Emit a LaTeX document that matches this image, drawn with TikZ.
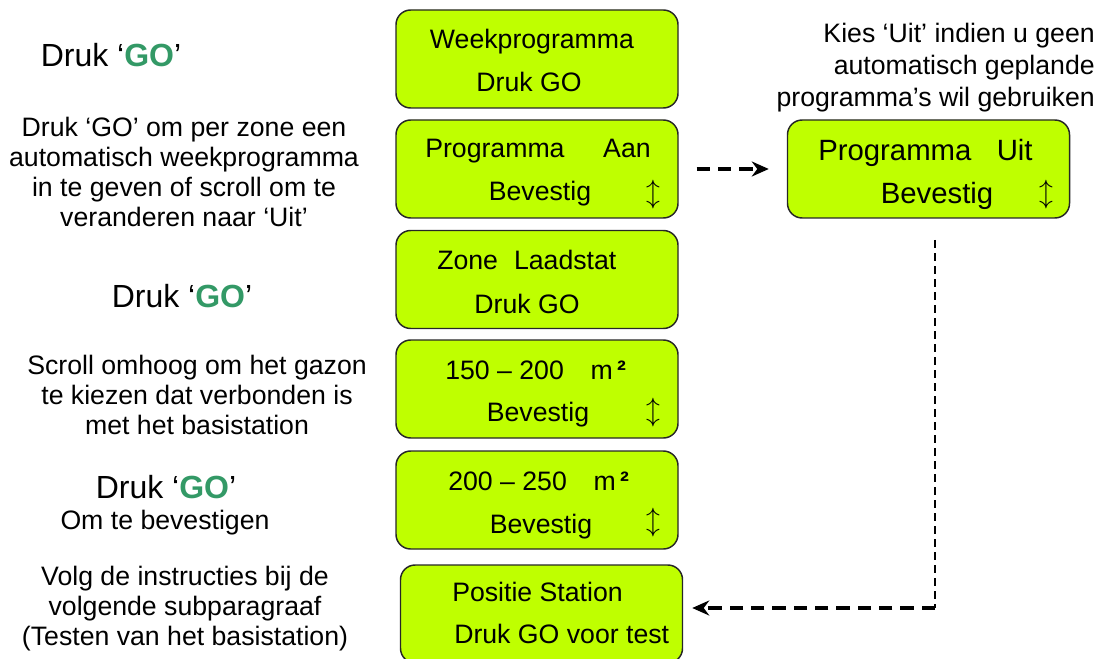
\documentclass[tikz,border=0pt]{standalone}
\usepackage{fontspec}
\setmainfont{Liberation Sans}
\usetikzlibrary{arrows.meta}
\definecolor{lcdback}{RGB}{191,255,0}
\definecolor{gogreen}{RGB}{51,153,102}
\newcommand{\gobutton}{\textcolor{gogreen}{\bfseries GO}}

\begin{document}
\begin{tikzpicture}[x=0.75pt,y=-0.75pt,
  lcd/.style={draw=black!85,line width=1.1pt,fill=lcdback,rounded corners=11pt,
    minimum width=211.5pt,minimum height=73.5pt,inner sep=0pt},
  lcdtext/.style={font=\fontsize{20}{24}\selectfont,inner sep=0pt,anchor=base},
  bigtext/.style={font=\fontsize{22}{26}\selectfont,inner sep=0pt,anchor=base},
  scroll/.style={font=\fontsize{22}{22}\selectfont,inner sep=0pt},
  note/.style={align=center,font=\fontsize{20}{22.5}\selectfont,inner sep=0pt},
  gonote/.style={font=\fontsize{24}{28}\selectfont,inner sep=0pt,anchor=base},
  bigdash/.style={line width=3pt,dash pattern=on 10pt off 6pt},
  smalldash/.style={line width=1pt,dash pattern=on 6pt off 3.75pt},
  tip/.style={-{Stealth[length=12.75pt,width=11.25pt]}}]
\useasboundingbox (0,0) rectangle (1109,659);

\node[lcd] (week) at (537,59) {};
\node[lcd] (aan) at (537,169) {};
\node[lcd] (zone) at (537,279.5) {};
\node[lcd] (lawn1) at (537,389) {};
\node[lcd] (lawn2) at (537,500) {};
\node[lcd] (station) at (541.5,614) {};
\node[lcd] (uit) at (928.5,169) {};

\node[lcdtext] (weektitle) at (532,49) {Weekprogramma};
\node[lcdtext] (weekgo) at (529,92) {Druk GO};
\node[lcdtext,anchor=base west] (aantitle) at (425,158) {Programma\hspace{29pt}Aan};
\node[lcdtext] (aanok) at (540,201) {Bevestig};
\node[scroll] (aanscroll) at (653,195) {$\updownarrow$};
\node[lcdtext,anchor=base west] (zonetitle) at (437,269) {Zone\hspace{12pt}Laadstat};
\node[lcdtext] (zonego) at (527,313) {Druk GO};
\node[lcdtext,anchor=base west] (lawn1title) at (445,379) {150 – 200\hspace{20pt}m\,{\bfseries ²}};
\node[lcdtext] (lawn1ok) at (538,421) {Bevestig};
\node[scroll] (lawn1scroll) at (653,413) {$\updownarrow$};
\node[lcdtext,anchor=base west] (lawn2title) at (448,490) {200 – 250\hspace{20pt}m\,{\bfseries ²}};
\node[lcdtext] (lawn2ok) at (541,533) {Bevestig};
\node[scroll] (lawn2scroll) at (653,523) {$\updownarrow$};
\node[lcdtext,anchor=base west] (stationtitle) at (452,601) {Positie Station};
\node[lcdtext,anchor=base west] (stationgo) at (454,643) {Druk GO voor test};
\node[bigtext,anchor=base west] (uittitle) at (818,161) {Programma\hspace{19pt}Uit};
\node[bigtext] (uitok) at (937,204) {Bevestig};
\node[scroll] (uitscroll) at (1046,195) {$\updownarrow$};

\node[gonote] (go1) at (111,67) {Druk ‘\gobutton’};
\node[note] (weekhelp) at (184,171.5) {Druk ‘GO’ om per zone een\\automatisch weekprogramma\\in te geven of scroll om te\\veranderen naar ‘Uit’};
\node[gonote] (go2) at (182,307) {Druk ‘\gobutton’};
\node[note] (lawnhelp) at (197,395) {Scroll omhoog om het gazon\\te kiezen dat verbonden is\\met het basistation};
\node[gonote] (go3) at (166,498) {Druk ‘\gobutton’};
\node[note,anchor=base] (confirm) at (165,529) {Om te bevestigen};
\node[note] (stationhelp) at (185,609) {Volg de instructies bij de\\volgende subparagraaf\\(Testen van het basistation)};
\node[note,align=right,anchor=east,font=\fontsize{20}{24}\selectfont] (uithelp) at (1095,68) {Kies ‘Uit’ indien u geen\\automatisch geplande\\programma’s wil gebruiken};

\draw[bigdash,tip,shorten <=13.5pt,shorten >=13.5pt] (aan.east) -- (uit.west);
\coordinate (drop) at (935,240);
\coordinate (turn) at (935,608);
\draw[smalldash] (drop) -- (turn);
\draw[bigdash,tip,shorten >=6.75pt] (turn) -- (station.east |- turn);
\end{tikzpicture}
\end{document}
